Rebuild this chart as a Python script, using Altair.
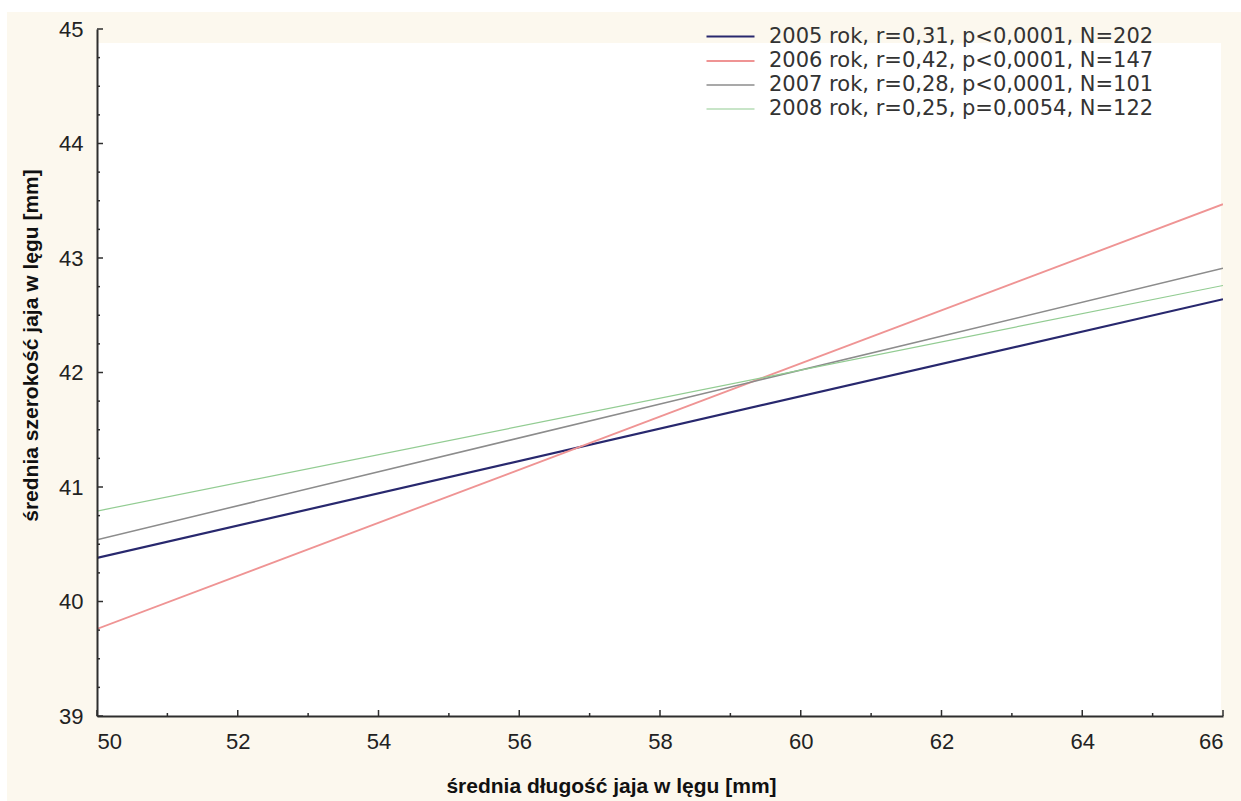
import altair as alt
import pandas as pd

# Regression lines of mean egg width on mean egg length, one per season
series = [
    "2005 rok, r=0,31, p<0,0001, N=202",
    "2006 rok, r=0,42, p<0,0001, N=147",
    "2007 rok, r=0,28, p<0,0001, N=101",
    "2008 rok, r=0,25, p=0,0054, N=122",
]
x_start = [50, 50, 50, 50]
x_end = [66, 66, 66, 66]
y_start = [40.38, 39.76, 40.54, 40.79]
y_end = [42.64, 43.47, 42.91, 42.76]

line_colors = ["#28286e", "#ef9494", "#8c8c8c", "#92cc92"]
line_widths = [2.2, 1.2, 1.2, 1.2]

x_ticks = [50, 52, 54, 56, 58, 60, 62, 64, 66]
x_minor = [51, 53, 55, 57, 59, 61, 63, 65]
y_ticks = [39, 40, 41, 42, 43, 44, 45]
y_minor = [39.25, 39.5, 39.75, 40.25, 40.5, 40.75, 41.25, 41.5, 41.75,
           42.25, 42.5, 42.75, 43.25, 43.5, 43.75, 44.25, 44.5, 44.75]

W, H = 1126, 687
CREAM = "#fcf8ee"
AXIS = "#2e2e2e"
TICK_FONT = "Liberation Sans"
TITLE_FONT = "Liberation Sans Narrow, Liberation Sans, Arial Narrow, sans-serif"

rows = []
for name, x0, x1, y0, y1 in zip(series, x_start, x_end, y_start, y_end):
    rows.append({"series": name, "x": x0, "y": y0})
    rows.append({"series": name, "x": x1, "y": y1})
df = pd.DataFrame(rows)

xs = alt.Scale(domain=[50, 66], nice=False, zero=False)
ys = alt.Scale(domain=[39, 45], nice=False, zero=False)

one = pd.DataFrame({"k": [0]})

# cream page and the white plotting field
page = alt.Chart(one).mark_rect(color=CREAM).encode(
    x=alt.value(-90), x2=alt.value(W + 18), y=alt.value(-17), y2=alt.value(H + 85)
)
field = alt.Chart(one).mark_rect(color="white").encode(
    x=alt.value(0), x2=alt.value(W - 2), y=alt.value(14), y2=alt.value(H)
)

# legend swatch: a short horizontal stroke, 4.8 units wide in symbol space
SWATCH = "M-2.4,0H2.4"

lines = alt.Chart(df).mark_line(clip=True).encode(
    x=alt.X(
        "x:Q",
        scale=xs,
        axis=alt.Axis(
            values=x_ticks,
            format="d",
            ticks=False,
            grid=False,
            zindex=2,
            labelPadding=25,
            labelBaseline="middle",
            title="średnia długość jaja w lęgu [mm]",
            titleX=514,
            titleY=70,
            titleBaseline="middle",
            titleAlign="center",
        ),
    ),
    y=alt.Y(
        "y:Q",
        scale=ys,
        axis=alt.Axis(
            values=y_ticks,
            format="d",
            ticks=False,
            grid=False,
            zindex=2,
            labelPadding=14,
            title="średnia szerokość jaja w lęgu [mm]",
            titleX=-66,
            titleY=316,
            titleAngle=270,
            titleBaseline="middle",
            titleAlign="center",
        ),
    ),
    color=alt.Color(
        "series:N",
        scale=alt.Scale(domain=series, range=line_colors),
        legend=alt.Legend(
            title=None,
            orient="none",
            legendX=622,
            legendY=-4,
            symbolType=SWATCH,
            symbolSize=400,
            symbolStrokeWidth=2,
            labelFont="DejaVu Sans",
            labelFontSize=21,
            labelColor="#333333",
            labelOffset=27,
            labelLimit=0,
            rowPadding=3,
            padding=0,
            zindex=3,
        ),
    ),
    strokeWidth=alt.StrokeWidth(
        "series:N", scale=alt.Scale(domain=series, range=line_widths), legend=None
    ),
)

xt = pd.DataFrame({"v": x_ticks})
xm = pd.DataFrame({"v": x_minor})
yt = pd.DataFrame({"v": y_ticks})
ym = pd.DataFrame({"v": y_minor})

# ticks point into the plotting field
x_major_ticks = alt.Chart(xt).mark_rule(color=AXIS, strokeWidth=1.5).encode(
    x=alt.X("v:Q", scale=xs), y=alt.value(H), y2=alt.value(H - 6)
)
x_minor_ticks = alt.Chart(xm).mark_rule(color=AXIS, strokeWidth=1.5).encode(
    x=alt.X("v:Q", scale=xs), y=alt.value(H), y2=alt.value(H - 3)
)
y_major_ticks = alt.Chart(yt).mark_rule(color=AXIS, strokeWidth=1.5).encode(
    y=alt.Y("v:Q", scale=ys), x=alt.value(0), x2=alt.value(6)
)
y_minor_ticks = alt.Chart(ym).mark_rule(color=AXIS, strokeWidth=1.5).encode(
    y=alt.Y("v:Q", scale=ys), x=alt.value(0), x2=alt.value(3)
)

chart = (
    alt.layer(
        page, field, lines,
        x_major_ticks, x_minor_ticks, y_major_ticks, y_minor_ticks,
    )
    .properties(
        width=W,
        height=H,
        padding={"left": 97, "top": 29, "right": 18, "bottom": 85},
        autosize=alt.AutoSizeParams(type="none"),
        background="white",
    )
    .configure_view(stroke=None)
    .configure_axis(
        domainColor=AXIS,
        domainWidth=2,
        labelFont=TICK_FONT,
        labelFontSize=22,
        labelColor="#222222",
        titleFont=TITLE_FONT,
        titleFontSize=21,
        titleFontWeight="bold",
        titleColor="#111111",
    )
)

chart.save("out.html", embed_options={"renderer": "svg", "actions": False})
